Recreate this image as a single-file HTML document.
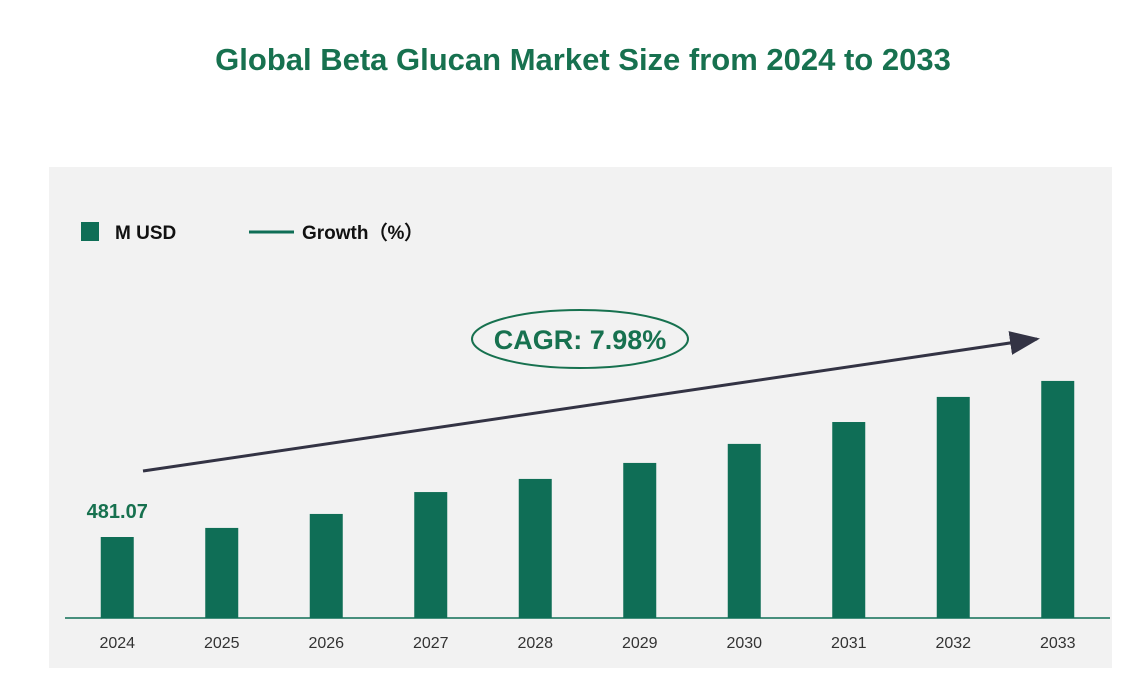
<!DOCTYPE html>
<html><head><meta charset="utf-8"><style>
body{margin:0;width:1145px;height:685px;background:#fff;font-family:"Liberation Sans",sans-serif;overflow:hidden}
</style></head><body>
<svg width="1145" height="685" viewBox="0 0 1145 685">
<text x="583" y="70" text-anchor="middle" font-size="31" font-weight="bold" fill="#17714f">Global Beta Glucan Market Size from 2024 to 2033</text>
<rect x="49" y="167" width="1063" height="501" fill="#f2f2f2"/>
<rect x="81" y="222" width="18" height="19" fill="#0f6e56"/>
<text x="115" y="239" font-size="19" font-weight="bold" fill="#111">M USD</text>
<line x1="249" y1="232" x2="294" y2="232" stroke="#0f6e56" stroke-width="3"/>
<text x="302" y="239" font-size="19" font-weight="bold" fill="#111">Growth（%）</text>
<g id="bars"></g>
<line x1="65" y1="618" x2="1110" y2="618" stroke="#0f6e56" stroke-width="1.5"/>
<defs><marker id="ah" markerWidth="10" markerHeight="8" refX="9" refY="4" orient="auto"><path d="M0,0 L10,4 L0,8 z" fill="#333344"/></marker></defs>
<line x1="143" y1="471" x2="1037" y2="339" stroke="#333344" stroke-width="3" marker-end="url(#ah)"/>
<ellipse cx="580" cy="339" rx="108" ry="29" fill="none" stroke="#17714f" stroke-width="2"/>
<text x="580" y="349" text-anchor="middle" font-size="27" font-weight="bold" fill="#17714f">CAGR: 7.98%</text>
</svg>
<script>
const categories=["2024","2025","2026","2027","2028","2029","2030","2031","2032","2033"];
const values=[481.07,535,618,748,826,921,1034,1164,1313,1408];
const firstLabel="481.07";
const NS="http://www.w3.org/2000/svg";
const x0=65,x1=1110,base=618,pxPer=81/481.07;
const band=(x1-x0)/categories.length;
function xc(i){return x0+band*(i+0.5);}
function yv(v){return base-v*pxPer;}
const g=document.getElementById("bars");
categories.forEach((c,i)=>{
 const r=document.createElementNS(NS,"rect");
 r.setAttribute("x",xc(i)-16.5);r.setAttribute("width",33);
 r.setAttribute("y",yv(values[i]));r.setAttribute("height",base-yv(values[i]));
 r.setAttribute("fill","#0f6e56");
 
 
 g.appendChild(r);
 const t=document.createElementNS(NS,"text");
 t.setAttribute("x",xc(i));t.setAttribute("y",648);t.setAttribute("text-anchor","middle");
 t.setAttribute("font-size","16");t.setAttribute("fill","#333");t.textContent=c;
 
 
 g.appendChild(t);
});
const lb=document.createElementNS(NS,"text");
lb.setAttribute("x",xc(0));lb.setAttribute("y",yv(values[0])-19);lb.setAttribute("text-anchor","middle");
lb.setAttribute("font-size","20");lb.setAttribute("font-weight","bold");lb.setAttribute("fill","#17714f");
lb.textContent=firstLabel;


g.appendChild(lb);
</script>
</body></html>
